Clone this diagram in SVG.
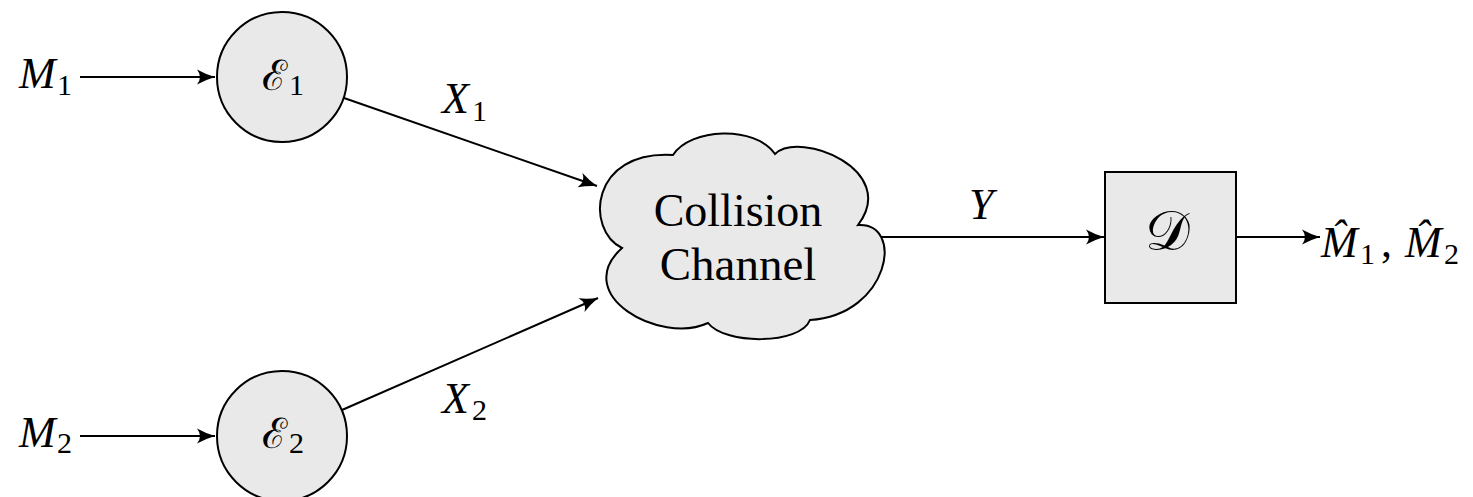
<svg xmlns="http://www.w3.org/2000/svg" width="1473" height="497" viewBox="0 0 1473 497">
<defs>
<style>
.node{fill:#e9e9e9;stroke:#000;stroke-width:2}
.edge{stroke:#000;stroke-width:2;fill:none}
</style>
<marker id="arr" markerUnits="userSpaceOnUse" markerWidth="22" markerHeight="18" viewBox="-20 -9 22 18" refX="0" refY="0" orient="auto">
<path d="M0,0 Q-10,-3 -18,-7.5 Q-12,0 -18,7.5 Q-10,3 0,0 Z" fill="#000"/>
</marker>
</defs>
<g id="connectors">
<line class="edge" x1="80" y1="77" x2="215" y2="77" marker-end="url(#arr)"/>
<line class="edge" x1="80" y1="436" x2="215" y2="436" marker-end="url(#arr)"/>
<line class="edge" x1="344" y1="98" x2="597" y2="186" marker-end="url(#arr)"/>
<line class="edge" x1="342" y1="410" x2="598" y2="298" marker-end="url(#arr)"/>
<line class="edge" x1="881" y1="237" x2="1104" y2="237" marker-end="url(#arr)"/>
<line class="edge" x1="1236" y1="237" x2="1320" y2="237" marker-end="url(#arr)"/>
</g>
<g id="labels">
<text style="font-family:'Liberation Serif',serif;font-style:italic;font-size:44px" x="442" y="113">X</text><text style="font-family:'Liberation Serif',serif;font-size:30px" x="472" y="121">1</text>
<text style="font-family:'Liberation Serif',serif;font-style:italic;font-size:44px" x="442" y="413">X</text><text style="font-family:'Liberation Serif',serif;font-size:30px" x="472" y="420">2</text>
<text style="font-family:'Liberation Serif',serif;font-style:italic;font-size:44px" x="969" y="219">Y</text>
</g>
<g id="M1"><text style="font-family:'Liberation Serif',serif;font-style:italic;font-size:44px" x="19" y="88">M</text><text style="font-family:'Liberation Serif',serif;font-size:30px" x="57" y="95">1</text></g>
<g id="M2"><text style="font-family:'Liberation Serif',serif;font-style:italic;font-size:44px" x="19" y="447">M</text><text style="font-family:'Liberation Serif',serif;font-size:30px" x="57" y="453">2</text></g>
<g id="E1">
<circle class="node" cx="282" cy="77" r="65"/>
<text style="font-family:'Liberation Serif',serif;font-size:42px" x="262" y="90">ℰ</text><text style="font-family:'Liberation Serif',serif;font-size:30px" x="289" y="95">1</text>
</g>
<g id="E2">
<circle class="node" cx="282" cy="436" r="65"/>
<text style="font-family:'Liberation Serif',serif;font-size:42px" x="262" y="448">ℰ</text><text style="font-family:'Liberation Serif',serif;font-size:30px" x="289" y="453">2</text>
</g>
<g id="channel">
<path class="node" d="M622,248 C585,230 590,150 673,155 C690,128 755,125 775,154 C800,130 900,170 858,225 C905,222 890,315 810,320 C800,345 725,345 708,323 C660,345 570,295 622,248 Z"/>
<text style="font-family:'Liberation Serif',serif;font-size:46px" x="738" y="226" text-anchor="middle">Collision</text>
<text style="font-family:'Liberation Serif',serif;font-size:47px" x="738" y="280" text-anchor="middle">Channel</text>
</g>
<g id="D">
<rect class="node" x="1105" y="172" width="131" height="131"/>
<text style="font-family:'Liberation Serif',serif;font-size:56px" x="1167" y="250" text-anchor="middle">𝒟</text>
</g>
<g id="out">
<text style="font-family:'Liberation Serif',serif;font-style:italic;font-size:44px" x="1321" y="257">M̂</text><text style="font-family:'Liberation Serif',serif;font-size:30px" x="1360" y="264">1</text>
<text style="font-family:'Liberation Serif',serif;font-size:44px" x="1381" y="257">,</text>
<text style="font-family:'Liberation Serif',serif;font-style:italic;font-size:44px" x="1405" y="257">M̂</text><text style="font-family:'Liberation Serif',serif;font-size:30px" x="1444" y="264">2</text>
</g>
</svg>
